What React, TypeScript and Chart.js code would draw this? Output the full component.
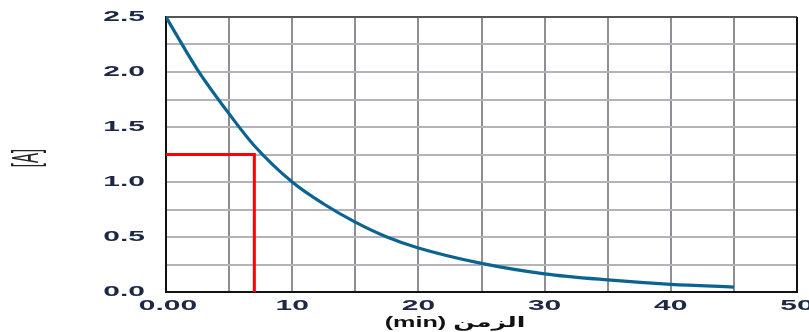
import React, { useEffect, useRef } from "react";
import { Chart, registerables } from "chart.js";

Chart.register(...registerables);

// Data
const timeMin = [0, 2.5, 5, 7, 10, 12.5, 15, 17.5, 20, 25, 30, 35, 40, 45];
const concentration = [2.5, 2.02, 1.62, 1.33, 1.0, 0.8, 0.635, 0.5, 0.4, 0.26, 0.165, 0.11, 0.07, 0.045];
const guideX = [0, 7, 7];
const guideY = [1.25, 1.25, 0];
const xTitle = "(min) الزمن";
const yTitle = "[A]";

const X_MIN = 0, X_MAX = 50, X_STEP = 5;
const Y_MIN = 0, Y_MAX = 2.5, Y_STEP = 0.25;

const LABEL_COLOR = "#1d2845";
const STRETCH = 2.0;

const labelPlugin = {
  id: "stretchedLabels",
  beforeDatasetsDraw(chart: any) {
    const { ctx, chartArea: a } = chart;
    ctx.save();
    ctx.lineWidth = 2;
    ctx.strokeStyle = "#555";
    ctx.beginPath();
    ctx.moveTo(a.left, a.top);
    ctx.lineTo(a.right, a.top);
    ctx.stroke();
    ctx.strokeStyle = "#111";
    ctx.beginPath();
    ctx.moveTo(a.right, a.top);
    ctx.lineTo(a.right, a.bottom);
    ctx.stroke();
    ctx.restore();
  },
  afterDraw(chart: any) {
    const { ctx } = chart;
    const xs = chart.scales.x;
    const ys = chart.scales.y;
    ctx.save();
    ctx.fillStyle = LABEL_COLOR;
    ctx.font = "bold 15px 'Liberation Sans', Arial, sans-serif";
    // y tick labels
    ys.ticks.forEach((t: any) => {
      const v = t.value;
      if (Math.abs(v * 2 - Math.round(v * 2)) > 1e-6) return;
      const py = ys.getPixelForValue(v);
      ctx.save();
      ctx.translate(145, py);
      ctx.scale(STRETCH, 1);
      ctx.textAlign = "right";
      ctx.textBaseline = "middle";
      ctx.fillText(v.toFixed(1), 0, 0);
      ctx.restore();
    });
    // x tick labels
    xs.ticks.forEach((t: any) => {
      const v = t.value;
      if (Math.round(v) % 10 !== 0) return;
      const px = xs.getPixelForValue(v) + (v === 0 ? 2 : 0);
      ctx.save();
      ctx.translate(px, 306);
      ctx.scale(STRETCH, 1);
      ctx.textAlign = "center";
      ctx.textBaseline = "middle";
      ctx.fillText(v === 0 ? "0.00" : String(v), 0, 0);
      ctx.restore();
    });
    // x title
    ctx.save();
    ctx.translate(455, 323);
    ctx.scale(1.8, 1);
    ctx.textAlign = "center";
    ctx.textBaseline = "middle";
    ctx.fillStyle = "#111";
    ctx.font = "bold 14px 'Liberation Sans', 'DejaVu Sans', sans-serif";
    ctx.fillText(xTitle, 0, 0);
    ctx.restore();
    // y title
    ctx.save();
    ctx.translate(28, 158);
    ctx.scale(2.5, 1);
    ctx.rotate(-Math.PI / 2);
    ctx.textAlign = "center";
    ctx.textBaseline = "middle";
    ctx.fillStyle = "#222";
    ctx.font = "15px 'Liberation Sans', Arial, sans-serif";
    ctx.fillText(yTitle, 0, 0);
    ctx.restore();
    ctx.restore();
  },
};

export default function App() {
  const ref = useRef<HTMLCanvasElement | null>(null);
  useEffect(() => {
    if (!ref.current) return;
    const chart = new Chart(ref.current, {
      type: "line",
      data: {
        datasets: [
          {
            data: timeMin.map((t, i) => ({ x: t, y: concentration[i] })),
            borderColor: "#0b6390",
            borderWidth: 3.2,
            pointRadius: 0,
            cubicInterpolationMode: "monotone",
            fill: false,
          },
          {
            data: guideX.map((t, i) => ({ x: t, y: guideY[i] })),
            borderColor: "#ff0000",
            borderWidth: 3,
            pointRadius: 0,
            tension: 0,
            fill: false,
          },
        ],
      },
      options: {
        responsive: false,
        animation: false,
        layout: { padding: { left: 0, top: 17, right: 12, bottom: 0 } },
        plugins: { legend: { display: false }, tooltip: { enabled: false } },
        scales: {
          x: {
            type: "linear",
            min: X_MIN,
            max: X_MAX,
            ticks: { stepSize: X_STEP, display: false },
            grid: { color: "#8e8e96", lineWidth: 2, drawTicks: false },
            border: { display: true, color: "#111", width: 2 },
            afterFit: (s: any) => { s.height = 40; },
          },
          y: {
            type: "linear",
            min: Y_MIN,
            max: Y_MAX,
            ticks: { stepSize: Y_STEP, display: false },
            grid: { color: "#b3b3ba", lineWidth: 2, drawTicks: false },
            border: { display: true, color: "#111", width: 2 },
            afterFit: (s: any) => { s.width = 166; },
          },
        },
      },
      plugins: [labelPlugin],
    } as any);
    return () => chart.destroy();
  }, []);
  return (
    <div style={{ position: "absolute", left: 0, top: 0, width: 809, height: 332, background: "#fff" }}>
      <canvas ref={ref} width={809} height={332} style={{ display: "block" }} />
    </div>
  );
}
